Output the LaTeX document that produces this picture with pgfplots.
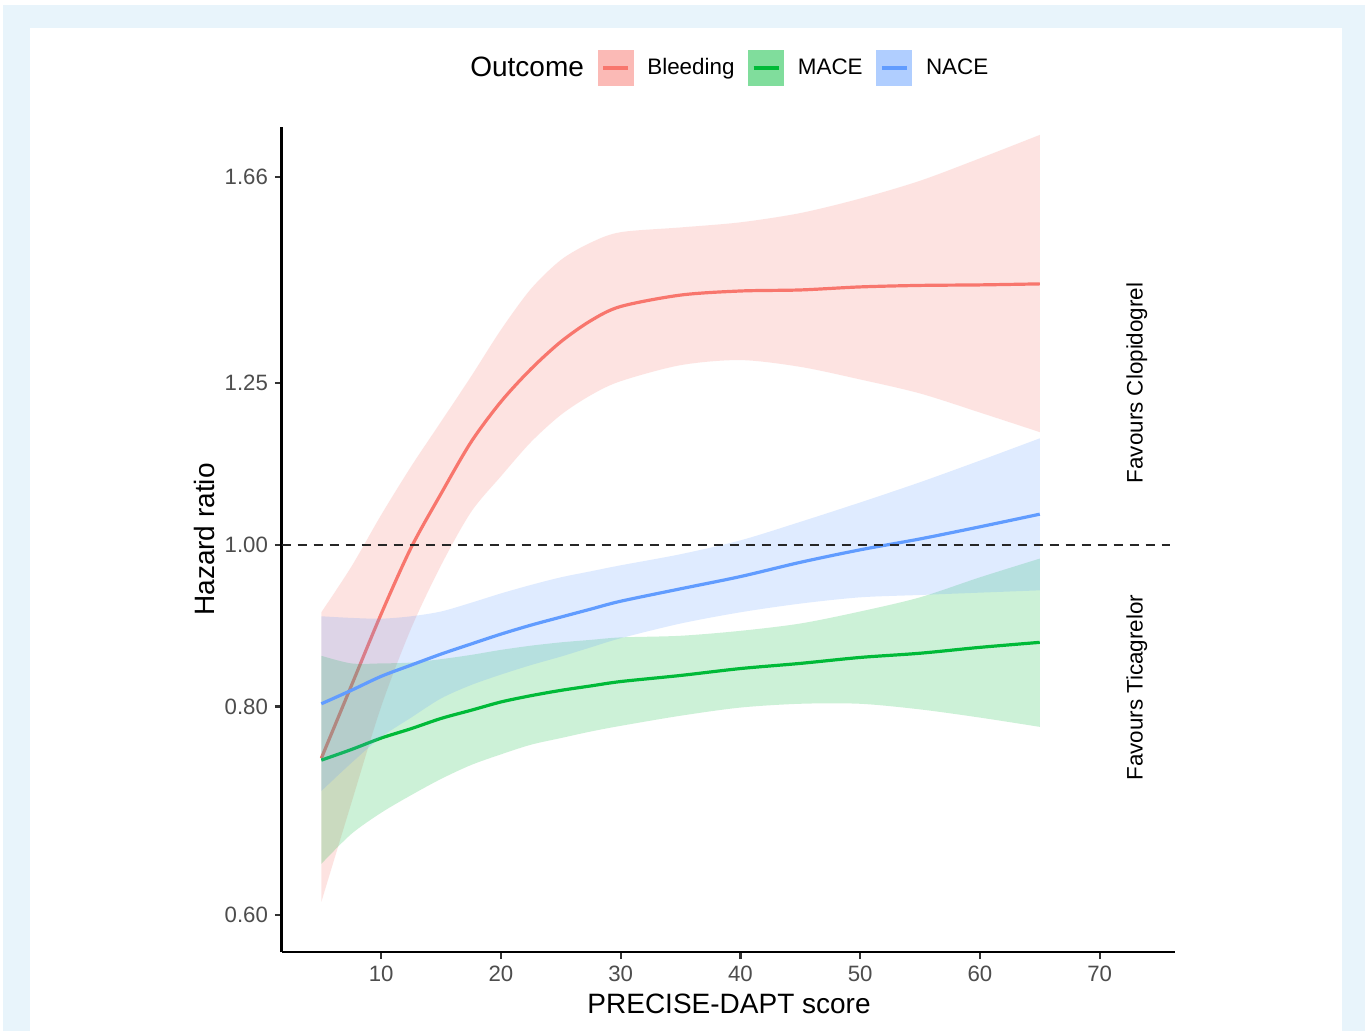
\documentclass[border=0pt]{standalone}
\usepackage{pgfplots}
\pgfplotsset{compat=1.18}
\usepackage{pgfplotstable}
\usepgfplotslibrary{fillbetween}
\usepackage{fontspec}
\setmainfont{Liberation Sans}

\definecolor{bleed}{HTML}{F8766D}
\definecolor{mace}{HTML}{00BA38}
\definecolor{nace}{HTML}{619CFF}
\definecolor{bgblue}{HTML}{E8F4FB}
\definecolor{tickgray}{HTML}{4D4D4D}

% estimate with 95% band
\pgfplotstableread{
x lo est hi
5 0.611 0.745 0.911
7.5 0.700 0.823 0.970
10 0.800 0.909 1.042
12.5 0.891 0.996 1.114
15 0.972 1.073 1.185
17.5 1.046 1.152 1.261
20 1.099 1.218 1.345
22.5 1.152 1.274 1.423
25 1.196 1.323 1.481
27.5 1.229 1.362 1.517
30 1.253 1.389 1.539
35 1.281 1.411 1.549
40 1.290 1.419 1.560
45 1.278 1.421 1.580
50 1.256 1.427 1.612
55 1.232 1.430 1.652
60 1.200 1.431 1.704
65 1.168 1.433 1.760
}\bleeding

\pgfplotstableread{
x lo est hi
5 0.644 0.743 0.858
7.5 0.671 0.754 0.849
10 0.691 0.766 0.849
12.5 0.708 0.776 0.850
15 0.724 0.787 0.854
17.5 0.738 0.796 0.859
20 0.749 0.805 0.865
22.5 0.759 0.812 0.870
25 0.766 0.818 0.874
27.5 0.773 0.823 0.877
30 0.779 0.828 0.880
35 0.790 0.835 0.882
40 0.799 0.843 0.888
45 0.803 0.849 0.897
50 0.803 0.856 0.912
55 0.797 0.861 0.930
60 0.788 0.868 0.956
65 0.778 0.874 0.981
}\mace

\pgfplotstableread{
x lo est hi
5 0.712 0.803 0.906
7.5 0.740 0.818 0.904
10 0.767 0.834 0.903
12.5 0.788 0.847 0.906
15 0.809 0.860 0.912
17.5 0.824 0.872 0.923
20 0.836 0.884 0.935
22.5 0.847 0.895 0.946
25 0.857 0.905 0.956
27.5 0.868 0.915 0.964
30 0.879 0.925 0.972
35 0.897 0.941 0.987
40 0.911 0.957 1.006
45 0.922 0.976 1.032
50 0.930 0.993 1.060
55 0.933 1.008 1.090
60 0.936 1.025 1.123
65 0.939 1.043 1.158
}\nace

\begin{document}
\begin{tikzpicture}
\begin{axis}[
    at={(0pt,0pt)}, anchor=south west,
    scale only axis,
    width=446.45pt, height=412.8pt,
    clip=false,
    xmin=1.69, xmax=76.26,
    ymode=log, ymin=0.570, ymax=1.780,
    axis lines=left,
    axis line style={-, line width=1.2pt, black},
    tick align=outside,
    major tick length=3.35pt,
    tick style={line width=1.1pt, black!80},
    xtick={10,20,30,40,50,60,70},
    xticklabels={10,20,30,40,50,60,70},
    ytick={0.6,0.8,1,1.25,1.66},
    yticklabels={0.60,0.80,1.00,1.25,1.66},
    minor tick num=0,
    ticklabel style={font=\fontsize{11.1}{13}\selectfont, text=tickgray, inner sep=0pt},
    yticklabel style={xshift=-3.35pt},
    xticklabel style={yshift=-3.5pt},
    xlabel={PRECISE-DAPT score},
    ylabel={Hazard ratio},
    every axis x label/.style={at={(axis description cs:0.501,-0.0626)}, anchor=center, font=\fontsize{14}{16}\selectfont},
    every axis y label/.style={at={(axis description cs:-0.087,0.5)}, rotate=90, anchor=center, font=\fontsize{14}{16}\selectfont},
    legend columns=-1,
    legend style={at={(0.4937,1.0711)}, anchor=center, draw=none, fill=none,
        inner sep=0pt, column sep=6.8pt,
        nodes={inner sep=0pt, font=\fontsize{11.2}{13}\selectfont}},
]
% page background: light blue frame with a white panel
\begin{pgfonlayer}{axis background}
\fill[white] (rel axis cs:-0.31549,-0.09532) rectangle (rel axis cs:1.21324,1.15347);
\fill[bgblue] (rel axis cs:-0.31213,-0.09532) rectangle (rel axis cs:1.21324,1.14680);
\fill[white] (rel axis cs:-0.28189,-0.09532) rectangle (rel axis cs:1.18714,1.11955);
\end{pgfonlayer}

\addlegendimage{empty legend}
\addlegendentry{\fontsize{14}{16}\selectfont Outcome}

% each band is drawn right before its line, all on one layer
% Bleeding
\addplot[draw=none, forget plot, smooth, name path=bu] table[x=x, y=hi] {\bleeding};
\addplot[draw=none, forget plot, smooth, name path=bl] table[x=x, y=lo] {\bleeding};
\addplot[bleed, fill opacity=0.2, draw=none, forget plot, on layer=pre main] fill between[of=bu and bl];
\addplot[bleed, line width=1.6pt, smooth, on layer=pre main,
    legend image code/.code={\fill[bleed!50!white] (0pt,-8.2pt) rectangle (16.5pt,8.2pt);
        \draw[bleed, line width=1.6pt] (2pt,0pt) -- (14.5pt,0pt);}]
    table[x=x, y=est] {\bleeding};
\addlegendentry{Bleeding}

% MACE
\addplot[draw=none, forget plot, smooth, name path=mu] table[x=x, y=hi] {\mace};
\addplot[draw=none, forget plot, smooth, name path=ml] table[x=x, y=lo] {\mace};
\addplot[mace, fill opacity=0.2, draw=none, forget plot, on layer=pre main] fill between[of=mu and ml];
\addplot[mace, line width=1.6pt, smooth, on layer=pre main,
    legend image code/.code={\fill[mace!50!white] (0pt,-8.2pt) rectangle (16.5pt,8.2pt);
        \draw[mace, line width=1.6pt] (2pt,0pt) -- (14.5pt,0pt);}]
    table[x=x, y=est] {\mace};
\addlegendentry{MACE}

% NACE
\addplot[draw=none, forget plot, smooth, name path=nu] table[x=x, y=hi] {\nace};
\addplot[draw=none, forget plot, smooth, name path=nl] table[x=x, y=lo] {\nace};
\addplot[nace, fill opacity=0.2, draw=none, forget plot, on layer=pre main] fill between[of=nu and nl];
\addplot[nace, line width=1.6pt, smooth, on layer=pre main,
    legend image code/.code={\fill[nace!50!white] (0pt,-8.2pt) rectangle (16.5pt,8.2pt);
        \draw[nace, line width=1.6pt] (2pt,0pt) -- (14.5pt,0pt);}]
    table[x=x, y=est] {\nace};
\addlegendentry{NACE}

% reference line at HR = 1
\addplot[forget plot, black!85, line width=1pt, dash pattern=on 4.5pt off 3.5pt]
    coordinates {(1.69,1) (75.9,1)};

\node[rotate=90, font=\fontsize{11.2}{13}\selectfont] at (axis cs:73.1,1.25) {Favours Clopidogrel};
\node[rotate=90, font=\fontsize{11.2}{13}\selectfont] at (axis cs:73.1,0.821) {Favours Ticagrelor};
\end{axis}
\end{tikzpicture}
\end{document}
